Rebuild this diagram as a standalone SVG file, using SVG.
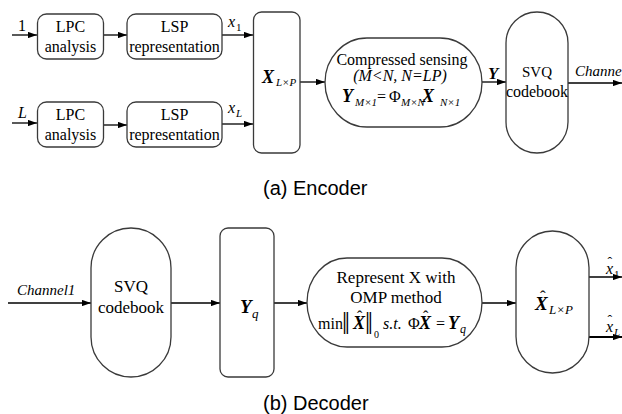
<svg xmlns="http://www.w3.org/2000/svg" width="622" height="414" viewBox="0 0 622 414">
<style>
.box{fill:#fff;stroke:#3a3a3a;stroke-width:1.3}
.ln{fill:none;stroke:#000;stroke-width:1.3}
.t{font-family:'Liberation Serif','Times New Roman',serif;font-size:16px;fill:#000}
.tc{text-anchor:middle}
.i{font-style:italic}
.b{font-weight:bold;font-style:italic}
.cap{font-family:'Liberation Sans',Arial,sans-serif;font-size:20px;fill:#000}
</style>
<defs>
<marker id="ah" viewBox="0 0 10 7" refX="10" refY="3.5" markerWidth="9" markerHeight="6.3" markerUnits="userSpaceOnUse" orient="auto">
<path d="M0,0 L10,3.5 L0,7 z" fill="#000"/>
</marker>
</defs>

<g id="connectors">
<line class="ln" x1="12" y1="35" x2="37" y2="35" marker-end="url(#ah)"/>
<line class="ln" x1="103" y1="35" x2="127" y2="35" marker-end="url(#ah)"/>
<line class="ln" x1="222" y1="35" x2="253" y2="35" marker-end="url(#ah)"/>
<line class="ln" x1="12" y1="123" x2="37" y2="123" marker-end="url(#ah)"/>
<line class="ln" x1="103" y1="125" x2="127" y2="125" marker-end="url(#ah)"/>
<line class="ln" x1="222" y1="124" x2="253" y2="124" marker-end="url(#ah)"/>
<line class="ln" x1="300" y1="82" x2="325" y2="82" marker-end="url(#ah)"/>
<line class="ln" x1="482" y1="82" x2="506" y2="82" marker-end="url(#ah)"/>
<line class="ln" x1="568" y1="83" x2="622" y2="83" marker-end="url(#ah)"/>
<line class="ln" x1="8" y1="303" x2="91" y2="303" marker-end="url(#ah)"/>
<line class="ln" x1="171" y1="303" x2="220" y2="303" marker-end="url(#ah)"/>
<line class="ln" x1="274" y1="303" x2="307" y2="303" marker-end="url(#ah)"/>
<line class="ln" x1="482" y1="303" x2="516" y2="303" marker-end="url(#ah)"/>
<line class="ln" x1="589" y1="277" x2="622" y2="277" marker-end="url(#ah)"/>
<line class="ln" x1="589" y1="337" x2="622" y2="337" style="stroke-width:1.8" marker-end="url(#ah)"/>
<text class="t" x="18" y="31">1</text>
<text class="t i" x="18" y="118">L</text>
<text class="t i" x="228" y="27">x</text>
<text class="t" x="236" y="31" style="font-size:11px">1</text>
<text class="t i" x="228" y="113">x</text>
<text class="t i" x="236" y="117" style="font-size:11px">L</text>
<text class="t b" x="488" y="79" style="font-size:17px">Y</text>
<text class="t i" x="575" y="76" style="font-size:15px">Channel</text>
<text class="t i" x="17" y="295" style="font-size:15px">Channel1</text>
<text class="t i" x="606" y="274">x</text>
<text class="t" x="607.5" y="267" style="font-size:14px">ˆ</text>
<text class="t" x="614" y="278" style="font-size:11px">1</text>
<text class="t i" x="606" y="332">x</text>
<text class="t" x="607.5" y="325" style="font-size:14px">ˆ</text>
<text class="t i" x="614" y="336" style="font-size:11px">L</text>
</g>

<g id="lpc1">
<rect class="box" x="37.5" y="14" width="66" height="45" rx="9"/>
<text class="t tc" x="70.5" y="31.5">LPC</text>
<text class="t tc" x="70.5" y="51.5">analysis</text>
</g>
<g id="lsp1">
<rect class="box" x="127" y="14" width="95" height="45" rx="9"/>
<text class="t tc" x="174.5" y="31.5">LSP</text>
<text class="t tc" x="174.5" y="51.5">representation</text>
</g>
<g id="lpcL">
<rect class="box" x="37.5" y="102" width="66" height="45" rx="9"/>
<text class="t tc" x="70.5" y="119.5">LPC</text>
<text class="t tc" x="70.5" y="139.5">analysis</text>
</g>
<g id="lspL">
<rect class="box" x="127" y="102" width="95" height="45" rx="9"/>
<text class="t tc" x="174.5" y="119.5">LSP</text>
<text class="t tc" x="174.5" y="139.5">representation</text>
</g>
<g id="xmatrix">
<rect class="box" x="253.5" y="12" width="46.5" height="141" rx="8"/>
<text class="t b" x="262" y="83" style="font-size:18px">X</text>
<text class="t i" x="276" y="86" style="font-size:11px">L×P</text>
</g>
<g id="cs">
<rect class="box" x="325" y="38" width="157" height="89" rx="42" ry="44.5"/>
<text class="t tc" x="402" y="65">Compressed sensing</text>
<text class="t tc i" x="400" y="81">(M&lt;N, N=LP)</text>
<text class="t b" x="342" y="102" style="font-size:18px">Y</text>
<text class="t i" x="355" y="106" style="font-size:11px">M×1</text>
<text class="t" x="377" y="102">=</text>
<text class="t" x="389" y="102">Φ</text>
<text class="t i" x="401" y="106" style="font-size:11px">M×N</text>
<text class="t b" x="422" y="102" style="font-size:18px">X</text>
<text class="t i" x="440" y="106" style="font-size:11px">N×1</text>
</g>
<g id="svq-enc">
<rect class="box" x="506" y="12" width="62" height="141" rx="31"/>
<text class="t tc" x="537" y="77" style="font-size:15px">SVQ</text>
<text class="t tc" x="537" y="97">codebook</text>
</g>

<g id="svq-dec">
<rect class="box" x="91" y="228" width="80" height="149" rx="40"/>
<text class="t tc" x="131" y="292" style="font-size:17px">SVQ</text>
<text class="t tc" x="131" y="313" style="font-size:17px">codebook</text>
</g>
<g id="yq">
<rect class="box" x="220" y="228" width="54" height="149" rx="8"/>
<text class="t b" x="240" y="313" style="font-size:19px">Y</text>
<text class="t i" x="252" y="318" style="font-size:13px">q</text>
</g>
<g id="omp">
<rect class="box" x="307" y="258" width="175" height="89" rx="40" ry="44.5"/>
<text class="t tc" x="396" y="283" style="font-size:17px">Represent X with</text>
<text class="t tc" x="396" y="303" style="font-size:17px">OMP method</text>
<text class="t" x="318" y="329">min</text>
<text class="t" x="342" y="334" style="font-size:28px" transform="translate(342 334) scale(1 1.15) translate(-342 -334)">‖</text>
<text class="t b" x="353" y="329" style="font-size:18px">X</text>
<text class="t" x="357" y="322">ˆ</text>
<text class="t" x="365" y="334" style="font-size:28px" transform="translate(365 334) scale(1 1.15) translate(-365 -334)">‖</text>
<text class="t" x="374" y="338" style="font-size:10px">0</text>
<text class="t i" x="383" y="329">s.t.</text>
<text class="t" x="408" y="329">Φ</text>
<text class="t b" x="419" y="329" style="font-size:18px">X</text>
<text class="t" x="423" y="322">ˆ</text>
<text class="t" x="436" y="329">=</text>
<text class="t b" x="448" y="329" style="font-size:18px">Y</text>
<text class="t i" x="460" y="333" style="font-size:12px">q</text>
</g>
<g id="xhat">
<rect class="box" x="516" y="231" width="73" height="142" rx="36.5"/>
<text class="t b" x="535" y="310" style="font-size:19px">X</text>
<text class="t" x="540" y="302" style="font-size:17px">ˆ</text>
<text class="t i" x="549" y="314" style="font-size:13px">L×P</text>
</g>

<text class="cap" x="263" y="195">(a) Encoder</text>
<text class="cap" x="263" y="410">(b) Decoder</text>
</svg>
